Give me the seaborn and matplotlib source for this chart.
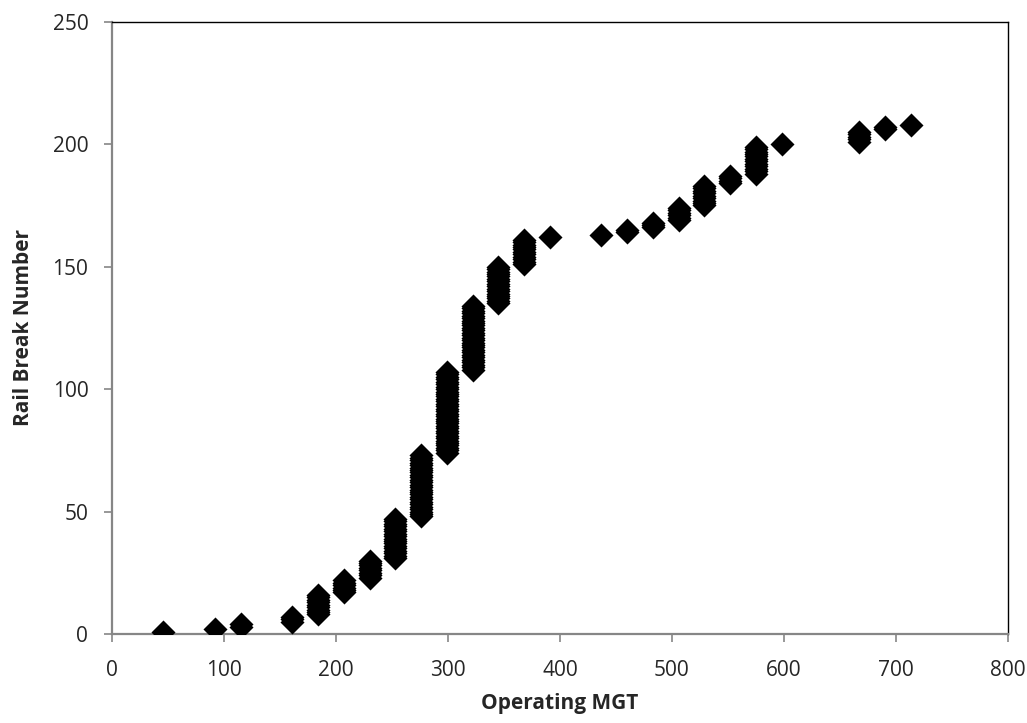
import pandas as pd
import seaborn as sns
import matplotlib.pyplot as plt

# operating MGT at each inspection and the cumulative rail break count reached there
mgt = [46, 92, 115, 161, 184, 207, 230, 253, 276, 299, 322, 345, 368, 391,
       437, 460, 483, 506, 529, 552, 575, 598, 667, 690, 713]
cum_breaks = [1, 2, 4, 7, 16, 22, 30, 47, 73, 107, 134, 150, 161, 162,
              163, 165, 168, 174, 183, 187, 199, 200, 205, 207, 208]

# one point per rail break (break number n logged at its MGT)
rows = []
prev = 0
for m, c in zip(mgt, cum_breaks):
    for n in range(prev + 1, c + 1):
        rows.append((m, n))
    prev = c
data = pd.DataFrame(rows, columns=['MGT', 'Breaks'])

sns.set_style('white')
plt.rcParams['font.family'] = ['Open Sans', 'DejaVu Sans']

fig = plt.figure(figsize=(10.27, 7.23), dpi=100)
ax = fig.add_axes([0.109, 0.123, 0.8725, 0.847])

sns.scatterplot(x='MGT', y='Breaks', data=data, marker='D', s=150,
                color='black', edgecolor='black', linewidth=0, ax=ax, zorder=3)

ax.set_xlim(0, 800)
ax.set_ylim(0, 250)
ax.set_xticks(range(0, 801, 100))
ax.set_yticks(range(0, 251, 50))

ax.set_xlabel('Operating MGT', fontsize=15, fontweight='bold', labelpad=8)
ax.set_ylabel('Rail Break Number', fontsize=15, fontweight='bold', labelpad=13)

# gray axis lines, black plot-area border
for side in ['left', 'bottom']:
    ax.spines[side].set_color('#868686')
    ax.spines[side].set_linewidth(1.6)
for side in ['top', 'right']:
    ax.spines[side].set_color('black')
    ax.spines[side].set_linewidth(1.0)

ax.tick_params(axis='both', which='major', direction='out', length=6, width=1.2,
               color='#868686', labelsize=15, bottom=True, left=True)
ax.tick_params(axis='x', pad=13)
ax.tick_params(axis='y', pad=11)

fig.patch.set_facecolor('white')
plt.savefig('out.png', dpi=100)
